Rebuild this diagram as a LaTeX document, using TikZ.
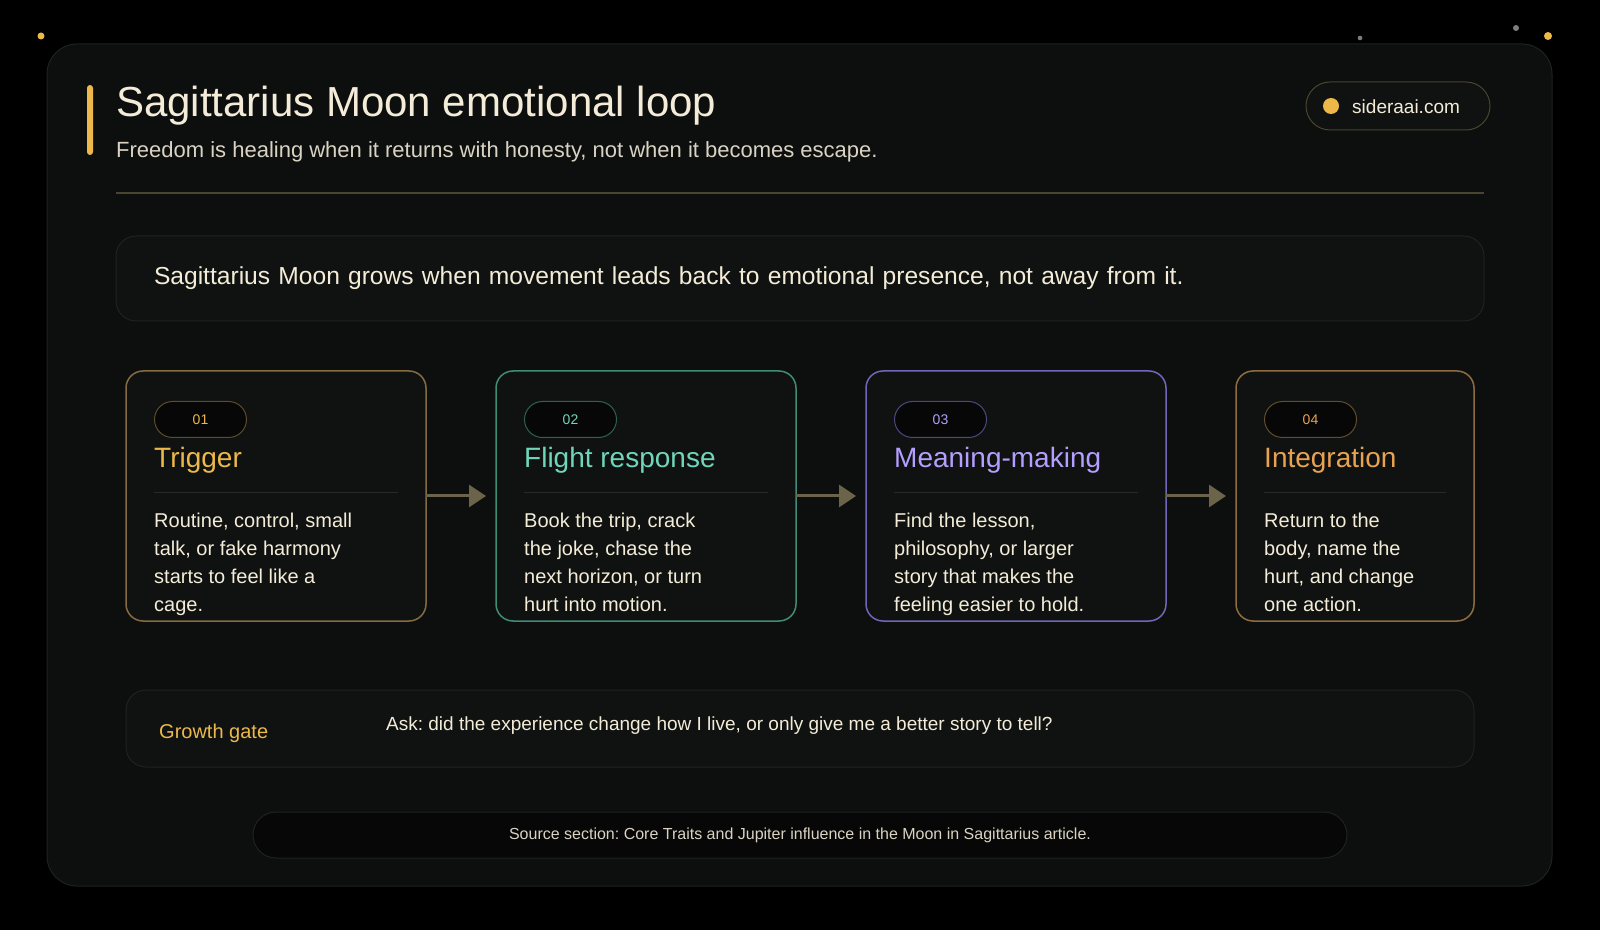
\documentclass[tikz,border=0pt]{standalone}
\usepackage{fontspec}
\setmainfont{Liberation Sans}
\usetikzlibrary{arrows.meta,positioning,calc}
\frenchspacing
\definecolor{sbg}{RGB}{0,0,0}
\definecolor{spanel}{RGB}{12,15,13}
\definecolor{sline}{RGB}{30,35,31}
\definecolor{sbox}{RGB}{15,18,16}
\definecolor{sdeep}{RGB}{6,7,6}
\definecolor{scream}{RGB}{244,236,216}
\definecolor{ssub}{RGB}{218,211,196}
\definecolor{sgold}{RGB}{236,184,74}
\definecolor{steal}{RGB}{112,214,186}
\definecolor{spurple}{RGB}{180,158,255}
\definecolor{sorange}{RGB}{232,162,82}
\definecolor{sgoldb}{RGB}{132,108,64}
\definecolor{stealb}{RGB}{64,140,118}
\definecolor{spurpleb}{RGB}{112,102,186}
\definecolor{sorangeb}{RGB}{142,108,66}
\definecolor{sarrow}{RGB}{107,100,74}
\definecolor{srule}{RGB}{74,68,48}
\definecolor{scardrule}{RGB}{38,42,37}
\definecolor{sgray}{RGB}{125,125,125}
\newcommand{\fs}[2]{\fontsize{#1}{#2}\selectfont}
\tikzset{
  panel/.style={rectangle,rounded corners=30pt,draw=sline,fill=spanel,line width=1pt,
                minimum width=1505pt,minimum height=842pt},
  pill/.style={rectangle,rounded corners=24pt,draw=srule,fill=sbox,line width=1pt,
               minimum width=184pt,minimum height=48pt},
  lead/.style={rectangle,rounded corners=20pt,draw=sline,fill=sbox,line width=1pt,
               minimum width=1368pt,minimum height=85pt,text width=1292pt,inner xsep=38pt,
               align=left,text=scream,font=\fs{24.6}{30}},
  card/.style={rectangle,rounded corners=17pt,fill=sbox,line width=1.5pt,
               minimum width=300pt,minimum height=250pt,inner sep=0pt,outer sep=0pt},
  badge/.style={rectangle,rounded corners=18pt,fill=sdeep,line width=1pt,
                minimum width=92pt,minimum height=36pt,inner sep=0pt,font=\fs{14}{16}},
  cardtitle/.style={anchor=base west,inner sep=0pt,font=\fs{28}{34}},
  cardbody/.style={anchor=north west,inner sep=0pt,align=left,text=scream,font=\fs{20}{28}},
  cardrule/.style={draw=scardrule,line width=1pt},
  flow/.style={-{Triangle[length=17pt,width=22pt]},line width=3pt,sarrow,shorten >=10pt},
  gatebox/.style={rectangle,rounded corners=20pt,draw=sline,fill=sbox,line width=1pt,
                  minimum width=1348pt,minimum height=77pt},
  srcbox/.style={rectangle,rounded corners=23pt,draw=sline,fill=sdeep,line width=1pt,
                 minimum width=1094pt,minimum height=46pt,text=ssub,font=\fs{16}{19}},
}
\begin{document}
\begin{tikzpicture}[x=1pt,y=1pt]
  \useasboundingbox (0,0) rectangle (1600,930);
  \fill[sbg] (0,0) rectangle (1600,930);
  % stray dots
  \fill[sgold] (41,894) circle (3.5pt);
  \fill[sgray] (1360,892) circle (2.3pt);
  \fill[sgray] (1516,902) circle (3pt);
  \fill[sgold] (1548,894) circle (4pt);
  \node[panel] (panel) at (799.5,465) {};

  % header
  \fill[sgold,rounded corners=3pt] (87,775) rectangle (93,845);
  \node[anchor=base west,inner sep=0pt,text=scream,font=\fs{42}{50}] (title) at (116,813)
     {Sagittarius Moon emotional loop};
  \node[anchor=base west,inner sep=0pt,text=ssub,font=\fs{22}{26}] (subtitle) at (116,772)
     {Freedom is healing when it returns with honesty, not when it becomes escape.};
  \node[pill] (site) at (1398,824) {};
  \node[circle,fill=sgold,minimum size=16pt,inner sep=0pt] (sitedot) at (1331,824) {};
  \node[anchor=base west,inner sep=0pt,text=scream,font=\fs{19}{23}] (sitetxt) at (1352,816)
     {sideraai.com};
  \draw[srule,line width=1.2pt] (116,737) -- (1484,737);

  \node[lead] (lead) at (800,651.5)
     {Sagittarius Moon grows when movement leads back to emotional presence, not away from it.};

  % the four steps
  \node[card,draw=sgoldb,anchor=north west] (trig) at (126,559) {};
  \node[card,draw=stealb,right=70pt of trig] (flight) {};
  \node[card,draw=spurpleb,right=70pt of flight] (meaning) {};
  \node[card,draw=sorangeb,right=70pt of meaning,minimum width=238pt] (integ) {};

  \node[badge,draw=sgoldb!70!black,text=sgold,below right=30pt and 28pt of trig.north west] (trignum) {01};
  \node[cardtitle,text=sgold] (trigtitle) at ([shift={(28,-97)}]trig.north west) {Trigger};
  \draw[cardrule] ([shift={(28,-122)}]trig.north west) -- ([shift={(-28,-122)}]trig.north east);
  \node[cardbody] (trigbody) at ([shift={(28,-142)}]trig.north west)
     {Routine, control, small\\talk, or fake harmony\\starts to feel like a\\cage.};

  \node[badge,draw=stealb!70!black,text=steal,below right=30pt and 28pt of flight.north west] (flightnum) {02};
  \node[cardtitle,text=steal] (flighttitle) at ([shift={(28,-97)}]flight.north west) {Flight response};
  \draw[cardrule] ([shift={(28,-122)}]flight.north west) -- ([shift={(-28,-122)}]flight.north east);
  \node[cardbody] (flightbody) at ([shift={(28,-142)}]flight.north west)
     {Book the trip, crack\\the joke, chase the\\next horizon, or turn\\hurt into motion.};

  \node[badge,draw=spurpleb!70!black,text=spurple,below right=30pt and 28pt of meaning.north west] (meaningnum) {03};
  \node[cardtitle,text=spurple] (meaningtitle) at ([shift={(28,-97)}]meaning.north west) {Meaning-making};
  \draw[cardrule] ([shift={(28,-122)}]meaning.north west) -- ([shift={(-28,-122)}]meaning.north east);
  \node[cardbody] (meaningbody) at ([shift={(28,-142)}]meaning.north west)
     {Find the lesson,\\philosophy, or larger\\story that makes the\\feeling easier to hold.};

  \node[badge,draw=sorangeb!70!black,text=sorange,below right=30pt and 28pt of integ.north west] (integnum) {04};
  \node[cardtitle,text=sorange] (integtitle) at ([shift={(28,-97)}]integ.north west) {Integration};
  \draw[cardrule] ([shift={(28,-122)}]integ.north west) -- ([shift={(-28,-122)}]integ.north east);
  \node[cardbody] (integbody) at ([shift={(28,-142)}]integ.north west)
     {Return to the\\body, name the\\hurt, and change\\one action.};

  \draw[flow] (trig) -- (flight);
  \draw[flow] (flight) -- (meaning);
  \draw[flow] (meaning) -- (integ);

  % gate and source
  \node[gatebox] (gate) at (800,201.5) {};
  \node[anchor=base west,inner sep=0pt,text=sgold,font=\fs{20}{24}] (gatelbl) at (159,192) {Growth gate};
  \node[anchor=base west,inner sep=0pt,text=scream,font=\fs{19}{23}] (gateq) at (386,200)
     {Ask: did the experience change how I live, or only give me a better story to tell?};
  \node[srcbox] (src) at (800,95)
     {Source section: Core Traits and Jupiter influence in the Moon in Sagittarius article.};
\end{tikzpicture}
\end{document}
